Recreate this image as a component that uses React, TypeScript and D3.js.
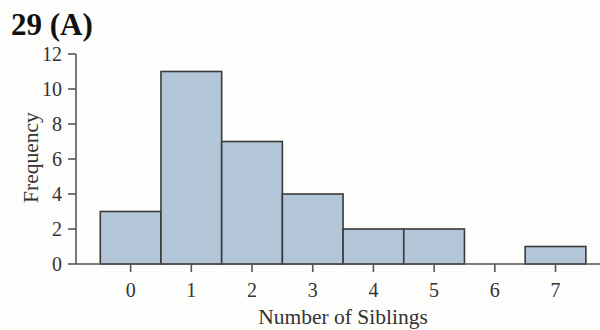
import React from "react";
import * as d3 from "d3";

const siblings = [0, 1, 2, 3, 4, 5, 6, 7];
const frequency = [3, 11, 7, 4, 2, 2, 0, 1];
const yTicks = [0, 2, 4, 6, 8, 10, 12];
const title = "29 (A)";
const xLabel = "Number of Siblings";
const yLabel = "Frequency";

export default function App() {
  const W = 600, H = 330;
  const x = d3.scaleLinear().domain([-0.9, 7.7]).range([76, 598]);
  const y = d3.scaleLinear().domain([0, 12]).range([264, 54]);
  const font = "'Liberation Serif', 'Times New Roman', serif";
  const axisColor = "#555";
  return (
    <svg width={W} height={H} style={{ position: "absolute", left: 0, top: 0, background: "#fdfdfb" }} fontFamily={font}>
      <text x={11} y={35} fontSize={31} fontWeight="bold" fill="#111">{title}</text>
      {siblings.map((s, i) => (
        frequency[i] > 0 ? (
          <rect key={s} x={x(s - 0.5)} y={y(frequency[i])} width={x(s + 0.5) - x(s - 0.5)} height={y(0) - y(frequency[i])}
            fill="#b3c6d8" stroke="#3a3a3a" strokeWidth={1.6} />
        ) : null
      ))}
      <line x1={x.range()[0]} x2={600} y1={y(0)} y2={y(0)} stroke={axisColor} strokeWidth={1.6} />
      <line x1={x.range()[0]} x2={x.range()[0]} y1={y(0)} y2={y(12)} stroke={axisColor} strokeWidth={1.6} />
      {yTicks.map(t => (
        <g key={t}>
          <line x1={x.range()[0] - 8} x2={x.range()[0]} y1={y(t)} y2={y(t)} stroke={axisColor} strokeWidth={1.6} />
          <text x={62} y={y(t)} dy="0.35em" textAnchor="end" fontSize={20} fill="#333">{t}</text>
        </g>
      ))}
      {siblings.map(s => (
        <g key={s}>
          <line x1={x(s)} x2={x(s)} y1={y(0)} y2={y(0) + 8} stroke={axisColor} strokeWidth={1.6} />
          <text x={x(s)} y={y(0) + 33} textAnchor="middle" fontSize={20} fill="#333">{s}</text>
        </g>
      ))}
      <text x={343} y={324} textAnchor="middle" fontSize={21.5} fill="#333">{xLabel}</text>
      <text transform="translate(38,157.5) rotate(-90)" textAnchor="middle" fontSize={21.5} fill="#333">{yLabel}</text>
    </svg>
  );
}
